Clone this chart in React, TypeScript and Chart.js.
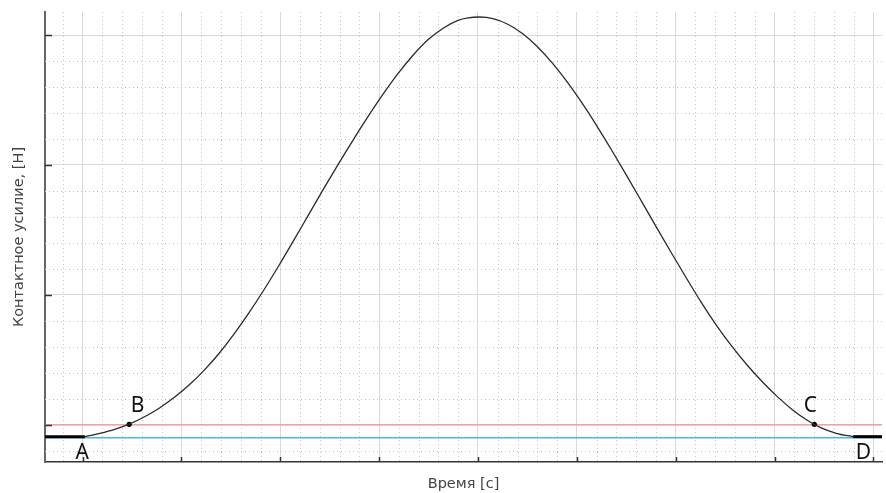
import React, { useEffect, useRef } from "react";
import { Chart, registerables } from "chart.js";

Chart.register(...registerables);

// ---- data (x in major-grid units, y in major-grid units) ----
const curveX = [
  0.0232, 0.1742, 0.3252, 0.4712, 0.6272, 0.7782, 0.9292, 1.0802, 1.2312, 1.3822,
  1.5332, 1.6843, 1.8353, 1.9863, 2.1373, 2.2883, 2.4393, 2.5903, 2.7413, 2.8923,
  3.0433, 3.1943, 3.3454, 3.4964, 3.6474, 3.7984, 3.899, 4.0149,
  4.1508, 4.3018, 4.4528, 4.6038, 4.7549, 4.9059, 5.0569, 5.2079, 5.3589, 5.5099,
  5.6609, 5.8119, 5.9629, 6.1139, 6.265, 6.416, 6.567, 6.718, 6.869, 7.02,
  7.171, 7.322, 7.473, 7.624, 7.7952,
];
const curveY = [
  -0.09, -0.0646, -0.0335, 0.0062, 0.0631, 0.1308, 0.2131, 0.3092, 0.4215, 0.5515,
  0.7, 0.8638, 1.04, 1.2269, 1.4215, 1.62, 1.8177, 2.0108, 2.1977, 2.3777,
  2.5485, 2.7062, 2.8462, 2.9646, 3.0523, 3.1123, 3.1315, 3.1385,
  3.1269, 3.0831, 3.0092, 2.9077, 2.7819, 2.6354, 2.4715, 2.2938, 2.1058, 1.9108,
  1.7123, 1.5127, 1.3154, 1.1227, 0.9358, 0.7627, 0.6058, 0.465, 0.3381, 0.2238,
  0.1235, 0.0404, -0.0231, -0.0646, -0.0908,
];
const markerX = [0.4712, 7.4026]; // B, C
const markerY = [0.005, 0.005];
const labelText = ["A", "B", "C", "D"];
const labelX = [-0.004, 0.556, 7.363, 7.9];
const labelY = [-0.262, 0.1, 0.1, -0.262];
const thresholdLevel = 0.0; // red line
const baseLevel = -0.098; // blue line
const flatLevel = -0.09; // thick black segments
const leftFlatX = [-0.38, 0.0232];
const rightFlatX = [7.7952, 8.09];
const xMajorTicks = [0, 1, 2, 3, 4, 5, 6, 7, 8];
const yMajorTicks = [0, 1, 2, 3];
const xRange = [-0.38, 8.087];
const yRange = [-0.285, 3.177];
const minorStep = 0.2;
const xTitle = "Время [с]";
const yTitle = "Контактное усилие, [Н]";

const TITLE_FONT = "'DejaVu Sans', sans-serif";
const LABEL_FONT = "'Noto Sans', sans-serif";

const gridPlugin = {
  id: "minorGridAndTicks",
  beforeDatasetsDraw(chart: any) {
    const { ctx, chartArea } = chart;
    const xs = chart.scales.x;
    const ys = chart.scales.y;
    ctx.save();
    ctx.strokeStyle = "#c6c6c6";
    ctx.lineWidth = 1;
    ctx.setLineDash([1, 3]);
    const kx0 = Math.ceil(xRange[0] / minorStep);
    const kx1 = Math.floor(xRange[1] / minorStep);
    for (let k = kx0; k <= kx1; k++) {
      if (k % 5 === 0) continue;
      const px = Math.round(xs.getPixelForValue(k * minorStep)) + 0.5;
      ctx.beginPath();
      ctx.moveTo(px, chartArea.top);
      ctx.lineTo(px, chartArea.bottom);
      ctx.stroke();
    }
    const ky0 = Math.ceil(yRange[0] / minorStep);
    const ky1 = Math.floor(yRange[1] / minorStep);
    for (let k = ky0; k <= ky1; k++) {
      if (k % 5 === 0) continue;
      const py = Math.round(ys.getPixelForValue(k * minorStep)) + 0.5;
      ctx.beginPath();
      ctx.moveTo(chartArea.left, py);
      ctx.lineTo(chartArea.right, py);
      ctx.stroke();
    }
    ctx.restore();
  },
  afterDatasetsDraw(chart: any) {
    const { ctx, chartArea } = chart;
    const xs = chart.scales.x;
    const ys = chart.scales.y;
    ctx.save();
    // inward tick marks
    ctx.strokeStyle = "#333";
    ctx.lineWidth = 1.5;
    for (const v of xMajorTicks) {
      const px = Math.round(xs.getPixelForValue(v)) + 0.5;
      ctx.beginPath();
      ctx.moveTo(px, chartArea.bottom);
      ctx.lineTo(px, chartArea.bottom - 5);
      ctx.stroke();
    }
    for (const v of yMajorTicks) {
      const py = Math.round(ys.getPixelForValue(v)) + 0.5;
      ctx.beginPath();
      ctx.moveTo(chartArea.left, py);
      ctx.lineTo(chartArea.left + 7, py);
      ctx.stroke();
    }
    // point labels
    ctx.fillStyle = "#111";
    ctx.font = `21px ${LABEL_FONT}`;
    ctx.textAlign = "center";
    ctx.textBaseline = "alphabetic";
    labelText.forEach((t, i) => {
      ctx.fillText(t, xs.getPixelForValue(labelX[i]), ys.getPixelForValue(labelY[i]));
    });
    ctx.restore();
  },
};

export default function App() {
  const ref = useRef<HTMLCanvasElement | null>(null);

  useEffect(() => {
    document.body.style.margin = "0";
    const canvas = ref.current;
    if (!canvas) return;
    const pts = (xs: number[], ys: number[]) => xs.map((x, i) => ({ x, y: ys[i] }));
    const chart = new Chart(canvas, {
      type: "scatter",
      data: {
        datasets: [
          {
            label: "curve",
            data: pts(curveX, curveY),
            showLine: true,
            borderColor: "#2a2a2a",
            borderWidth: 1.3,
            pointRadius: 0,
            cubicInterpolationMode: "monotone",
          } as any,
          {
            label: "markers",
            data: pts(markerX, markerY),
            showLine: false,
            pointRadius: 2.6,
            pointBackgroundColor: "#000",
            pointBorderColor: "#000",
            pointBorderWidth: 0,
          },
          {
            label: "left flat",
            data: pts(leftFlatX, [flatLevel, flatLevel]),
            showLine: true,
            borderColor: "#000",
            borderWidth: 3,
            pointRadius: 0,
          },
          {
            label: "right flat",
            data: pts(rightFlatX, [flatLevel, flatLevel]),
            showLine: true,
            borderColor: "#000",
            borderWidth: 3,
            pointRadius: 0,
          },
          {
            label: "base",
            data: pts(xRange, [baseLevel, baseLevel]),
            showLine: true,
            borderColor: "#45b8ef",
            borderWidth: 1.6,
            pointRadius: 0,
          },
          {
            label: "threshold",
            data: pts(xRange, [thresholdLevel, thresholdLevel]),
            showLine: true,
            borderColor: "#f07f7f",
            borderWidth: 1,
            pointRadius: 0,
          },
        ],
      },
      options: {
        animation: false,
        responsive: false,
        events: [],
        layout: { padding: { top: 12, right: 0, bottom: 0, left: 0 } },
        plugins: { legend: { display: false }, tooltip: { enabled: false } },
        scales: {
          x: {
            type: "linear",
            min: xRange[0],
            max: xRange[1],
            afterBuildTicks: (s: any) => {
              s.ticks = xMajorTicks.map((v) => ({ value: v }));
            },
            afterFit: (s: any) => {
              s.height = 31;
            },
            ticks: { display: false },
            grid: { color: "#d9d9d9", lineWidth: 1, drawTicks: false },
            border: { display: true, color: "#333", width: 1.5 },
            title: {
              display: true,
              text: xTitle,
              color: "#444",
              font: { family: TITLE_FONT, size: 14.5 },
              padding: { top: 0, bottom: 0 },
            },
          },
          y: {
            type: "linear",
            min: yRange[0],
            max: yRange[1],
            afterBuildTicks: (s: any) => {
              s.ticks = yMajorTicks.map((v) => ({ value: v }));
            },
            afterFit: (s: any) => {
              s.width = 45;
            },
            ticks: { display: false },
            grid: { color: "#d9d9d9", lineWidth: 1, drawTicks: false },
            border: { display: true, color: "#666", width: 2 },
            title: {
              display: true,
              text: yTitle,
              color: "#444",
              font: { family: TITLE_FONT, size: 14.5 },
              padding: { top: 11, bottom: 0 },
            },
          },
        },
      } as any,
      plugins: [gridPlugin],
    });
    return () => chart.destroy();
  }, []);

  return (
    <div style={{ width: 886, height: 493, overflow: "hidden" }}>
      <canvas ref={ref} width={886} height={493} style={{ display: "block" }} />
    </div>
  );
}
